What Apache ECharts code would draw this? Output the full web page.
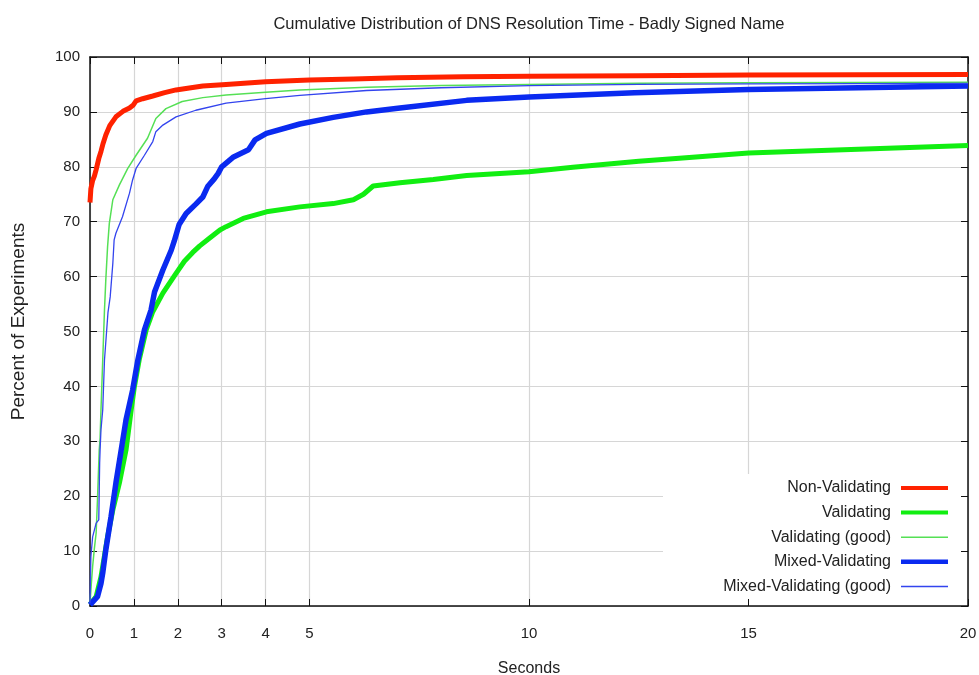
<!DOCTYPE html>
<html>
<head>
<meta charset="utf-8">
<title>DNS Resolution Time CDF</title>
<script src="https://cdn.jsdelivr.net/npm/echarts@6/dist/echarts.min.js"></script>
<style>
  html, body { margin: 0; padding: 0; background: #fff; }
  #chart { width: 979px; height: 675px; }
</style>
</head>
<body>
<div id="chart"></div>
<script>
// [seconds, percent]
var nonValidating = [
  [0, 73.5], [0.02, 76], [0.06, 77.5], [0.1, 78.3], [0.14, 79.5], [0.2, 81.5], [0.25, 82.8],
  [0.3, 84.3], [0.36, 85.8], [0.45, 87.5], [0.59, 89.1], [0.75, 90.1], [0.9, 90.7], [0.98, 91.2],
  [1.05, 92.0], [1.2, 92.4], [1.43, 92.9], [1.7, 93.5], [1.96, 94.0], [2.3, 94.4], [2.57, 94.7],
  [3.1, 95.0], [4, 95.5], [5, 95.8], [6, 96.0], [7, 96.2], [8.5, 96.4], [10, 96.5], [12.5, 96.6],
  [15, 96.7], [20, 96.8]
]
var validating = [
  [0, 0.3], [0.14, 1.7], [0.25, 5.3], [0.4, 12.6], [0.52, 17.5], [0.67, 22.4], [0.82, 28.4],
  [0.93, 35.2], [1.01, 39.9], [1.12, 44.8], [1.28, 50.3], [1.43, 53.6], [1.66, 57], [1.96, 60.6],
  [2.15, 62.8], [2.34, 64.4], [2.5, 65.6], [2.72, 67], [2.96, 68.5], [3.1, 69.1], [3.49, 70.6],
  [4.02, 71.8], [4.78, 72.7], [5.54, 73.3], [6.0, 74.0], [6.23, 75.0], [6.45, 76.5], [7.06, 77.1],
  [7.82, 77.7], [8.58, 78.4], [10, 79.1], [11, 79.9], [12.5, 81], [13.5, 81.6], [15, 82.5],
  [17.5, 83.2], [20, 83.9]
]
var validatingGood = [
  [0, 0.5], [0.03, 4], [0.06, 7.2], [0.1, 10.5], [0.14, 13.3], [0.17, 19.3], [0.21, 28.4],
  [0.23, 30.5], [0.25, 35.7], [0.29, 44.8], [0.33, 53.9], [0.36, 59.4], [0.4, 65.4], [0.44, 69.7],
  [0.52, 74], [0.67, 76.7], [0.86, 79.7], [1.05, 82.1], [1.31, 85.2], [1.5, 88.8], [1.73, 90.6],
  [2.1, 91.9], [2.57, 92.6], [3.1, 93.1], [4, 93.6], [4.78, 94.0], [6.3, 94.5], [8, 94.8],
  [10, 95.0], [12.5, 95.2], [15, 95.3], [20, 95.4]
]
var mixedValidating = [
  [0, 0.2], [0.17, 1.7], [0.25, 4.1], [0.29, 6], [0.36, 10.2], [0.48, 16.3], [0.59, 22.4],
  [0.71, 28.4], [0.82, 33.9], [0.97, 39.3], [1.09, 44.8], [1.24, 50.3], [1.39, 53.9], [1.47, 57.2],
  [1.66, 61.2], [1.85, 64.8], [1.92, 66.5], [2.03, 69.5], [2.19, 71.5], [2.41, 73.2], [2.57, 74.5],
  [2.68, 76.4], [2.83, 77.8], [2.92, 78.8], [3.0, 80], [3.27, 81.8], [3.61, 83.1], [3.76, 84.9],
  [4.02, 86.1], [4.78, 87.8], [5.54, 89], [6.3, 90], [7.06, 90.7], [8.58, 92.1], [10, 92.7],
  [12.4, 93.5], [15, 94.1], [17.5, 94.4], [20, 94.7]
]
var mixedValidatingGood = [
  [0, 0.5], [0.01, 5], [0.02, 9], [0.06, 12.6], [0.14, 15.1], [0.2, 15.7], [0.22, 26], [0.23, 28.4],
  [0.25, 32.1], [0.29, 35.7], [0.33, 44.8], [0.41, 53.5], [0.46, 56.3], [0.52, 62.4], [0.55, 66.7],
  [0.59, 67.9], [0.74, 70.9], [0.9, 75.2], [0.97, 77.6], [1.05, 79.7], [1.24, 82.1], [1.43, 84.6],
  [1.5, 86.4], [1.66, 87.6], [1.96, 89.1], [2.41, 90.3], [3.1, 91.6], [4, 92.4], [4.78, 93.0],
  [6.3, 93.9], [8, 94.4], [10, 94.8], [12.5, 95.0], [15, 95.1], [20, 95.2]
]
var seriesNames = ['Non-Validating', 'Validating', 'Validating (good)', 'Mixed-Validating', 'Mixed-Validating (good)']
var xTicks = [0, 1, 2, 3, 4, 5, 10, 15, 20]

var font = "'Liberation Sans', Arial, sans-serif"
var gridBox = { left: 90, right: 11, top: 57, bottom: 69, outerBoundsMode: 'none', containLabel: false }

// legend icons: bar inside a 47x14 box, thickness = line width
function barIcon(t) {
  var y0 = 7 - t / 2, y1 = 7 + t / 2
  return 'path://M0,0L0,0M0,' + y0 + 'H47V' + y1 + 'H0ZM47,14L47,14'
}

var styles = [
  { color: '#ff2200', width: 5, icon: 4 },
  { color: '#11ee11', width: 5, icon: 4 },
  { color: '#55e055', width: 1.5, icon: 1.6 },
  { color: '#0a2af0', width: 5.5, icon: 4.5 },
  { color: '#3344ee', width: 1.3, icon: 1.5 }
]
var allData = [nonValidating, validating, validatingGood, mixedValidating, mixedValidatingGood]

var chart = echarts.init(document.getElementById('chart'))

var series = []
var legendData = []
for (var i = 0; i < seriesNames.length; i++) {
  series.push({
    name: seriesNames[i],
    type: 'line',
    xAxisIndex: 1,
    yAxisIndex: 1,
    symbol: 'none',
    color: styles[i].color,
    lineStyle: { width: styles[i].width, color: styles[i].color },
    data: allData[i]
  })
  legendData.push({ name: seriesNames[i], icon: barIcon(styles[i].icon) })
}

var frameLine = { show: true, onZero: false, lineStyle: { color: '#111', width: 1.5 } }
var frameTick = { show: true, inside: true, length: 7, lineStyle: { color: '#111' } }

chart.setOption({
  animation: false,
  textStyle: { fontFamily: font },
  title: {
    text: 'Cumulative Distribution of DNS Resolution Time - Badly Signed Name',
    left: 524,
    top: 11,
    textAlign: 'center',
    textStyle: { fontSize: 16.5, fontWeight: 'normal', color: '#222', fontFamily: font }
  },
  // grid 0 only carries the grid lines, grid 1 the frame, ticks and series
  grid: [
    Object.assign({}, gridBox),
    Object.assign({}, gridBox)
  ],
  xAxis: [
    {
      gridIndex: 0, type: 'value', min: 0, max: 20, z: 0,
      axisLine: { show: false, onZero: false },
      axisTick: { show: false, customValues: xTicks },
      axisLabel: { show: false, customValues: xTicks },
      splitLine: { show: true, lineStyle: { color: '#d6d6d6', width: 1.2 } }
    },
    {
      gridIndex: 1, type: 'value', min: 0, max: 20, z: 3, position: 'bottom',
      name: 'Seconds', nameLocation: 'middle', nameGap: 55,
      nameTextStyle: { fontSize: 16, color: '#222' },
      axisLine: frameLine,
      axisTick: Object.assign({ customValues: xTicks }, frameTick),
      axisLabel: { show: true, customValues: xTicks, margin: 20, fontSize: 15, color: '#222' },
      splitLine: { show: false }
    },
    {
      gridIndex: 1, type: 'value', min: 0, max: 20, z: 3, position: 'top',
      axisLine: frameLine,
      axisTick: Object.assign({ customValues: xTicks }, frameTick),
      axisLabel: { show: false, customValues: xTicks },
      splitLine: { show: false }
    }
  ],
  yAxis: [
    {
      gridIndex: 0, type: 'value', min: 0, max: 100, interval: 10, z: 0,
      axisLine: { show: false, onZero: false },
      axisTick: { show: false },
      axisLabel: { show: false },
      splitLine: { show: true, lineStyle: { color: '#d6d6d6', width: 1.2 } }
    },
    {
      gridIndex: 1, type: 'value', min: 0, max: 100, interval: 10, z: 3, position: 'left',
      name: 'Percent of Experiments', nameLocation: 'middle', nameRotate: 90, nameGap: 62,
      nameTextStyle: { fontSize: 19, color: '#222', padding: [0, 0, 0, 20] },
      axisLine: frameLine,
      axisTick: frameTick,
      axisLabel: { margin: 10, fontSize: 15, color: '#222' },
      splitLine: { show: false }
    },
    {
      gridIndex: 1, type: 'value', min: 0, max: 100, interval: 10, z: 3, position: 'right',
      axisLine: frameLine,
      axisTick: frameTick,
      axisLabel: { show: false },
      splitLine: { show: false }
    }
  ],
  // white box behind the key hides the grid lines, like the original plot
  graphic: [{
    type: 'rect',
    z: 1,
    silent: true,
    shape: { x: 663, y: 474, width: 304, height: 131 },
    style: { fill: '#fff' }
  }],
  legend: {
    orient: 'vertical',
    align: 'right',
    right: 26,
    top: 475,
    itemWidth: 47,
    itemHeight: 14,
    itemGap: 8.6,
    selectedMode: false,
    itemStyle: { borderWidth: 0 },
    textStyle: { fontSize: 16, color: '#222', fontFamily: font, padding: [0, 5, 0, 0] },
    data: legendData
  },
  series: series
})
</script>
</body>
</html>
